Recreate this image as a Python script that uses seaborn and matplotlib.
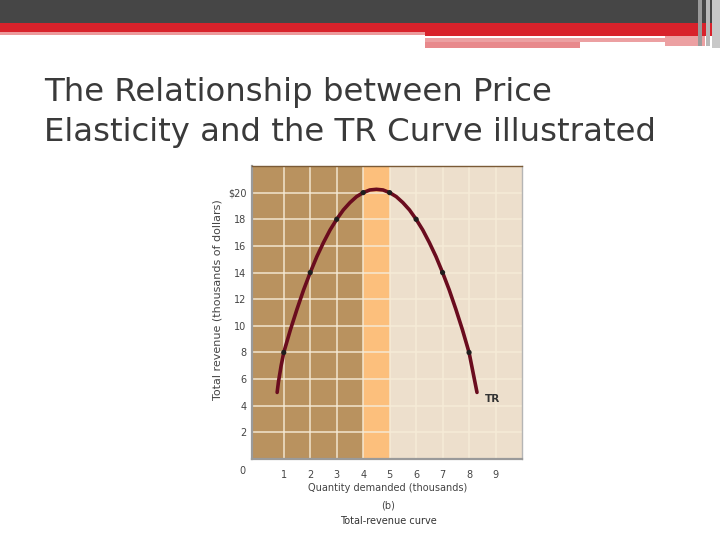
import matplotlib
matplotlib.use("Agg")
import matplotlib.pyplot as plt
from matplotlib.patches import Rectangle
import matplotlib.transforms as mtransforms
import seaborn as sns
import pandas as pd

# ---- data ----
quantity = [1, 2, 3, 4, 5, 6, 7, 8]
total_revenue = [8, 14, 18, 20, 20, 18, 14, 8]

curve_q = [0.75, 0.8, 0.9, 1.0, 1.25, 1.5, 1.75, 2.0, 2.25, 2.5, 2.75, 3.0,
           3.25, 3.5, 3.75, 4.0, 4.25, 4.5, 4.75, 5.0, 5.25, 5.5, 5.75, 6.0,
           6.25, 6.5, 6.75, 7.0, 7.25, 7.5, 7.75, 8.0, 8.1, 8.2, 8.3]
curve_tr = [5.0, 5.8, 7.0, 8.0, 9.7, 11.25, 12.7, 14.0, 15.2, 16.25, 17.2, 18.0,
            18.7, 19.25, 19.7, 20.0, 20.2, 20.25, 20.2, 20.0, 19.7, 19.25, 18.7, 18.0,
            17.2, 16.25, 15.2, 14.0, 12.7, 11.25, 9.7, 8.0, 7.0, 6.0, 5.0]

x_ticks = [1, 2, 3, 4, 5, 6, 7, 8, 9]
y_ticks = [2, 4, 6, 8, 10, 12, 14, 16, 18, 20]
y_tick_labels = ["2", "4", "6", "8", "10", "12", "14", "16", "18", "$20"]

elastic_end = 4
unit_end = 5

title = "The Relationship between Price\nElasticity and the TR Curve illustrated"

sns.set_style("white")
plt.rcParams['font.family'] = ['DejaVu Sans']

fig = plt.figure(figsize=(7.2, 5.4), dpi=100)
fig.patch.set_facecolor("white")

# ---- header decoration ----
H = 540.0
W = 720.0
def rect(x0, y0, x1, y1, color):
    fig.add_artist(Rectangle((x0 / W, 1 - y1 / H), (x1 - x0) / W, (y1 - y0) / H,
                             transform=fig.transFigure, color=color, lw=0, zorder=0))
rect(0, 0, 720, 23, "#464646")
rect(0, 23, 720, 32, "#d8222b")
rect(0, 32, 425, 35, "#ec9a9c")
rect(425, 32, 720, 36, "#d8222b")
rect(425, 38, 665, 42, "#eca0a2")
rect(425, 42, 580, 48, "#e8898c")
rect(665, 36, 705, 46, "#eca0a2")
rect(698, 0, 702, 46, "#9a9a9a")
rect(706, 0, 710, 46, "#b8b8b8")
rect(712, 0, 720, 48, "#c8c8c8")

fig.text(44 / W, 1 - 77 / H, title, fontsize=23.3, color="#3a3a3a",
         family="DejaVu Sans", va="top", ha="left", linespacing=1.36)

# ---- axes ----
ax = fig.add_axes([252 / W, 1 - 459 / H, 270 / W, 293 / H])
xmin, xmax = -0.2, 10.0
ymin, ymax = 0, 22
ax.set_xlim(xmin, xmax)
ax.set_ylim(ymin, ymax)

ax.axvspan(xmin, elastic_end, color="#b9925f", lw=0, zorder=0)
ax.axvspan(elastic_end, unit_end, color="#fcbf7c", lw=0, zorder=0)
ax.axvspan(unit_end, xmax, color="#eddfcc", lw=0, zorder=0)

for xv in x_ticks:
    ax.axvline(xv, color="#f6ecd8", lw=1.2, alpha=0.85, zorder=1)
for yv in y_ticks:
    ax.axhline(yv, color="#f6ecd8", lw=1.2, alpha=0.85, zorder=1)

curve_df = pd.DataFrame({"q": curve_q, "tr": curve_tr})
pts_df = pd.DataFrame({"q": quantity, "tr": total_revenue})
sns.lineplot(data=curve_df, x="q", y="tr", sort=False, color="#6a0c1e",
             lw=2.6, ax=ax, zorder=3)
sns.scatterplot(data=pts_df, x="q", y="tr", color="#1e1e1e", s=14,
                edgecolor="none", ax=ax, zorder=4)

ax.text(8.6, 4.5, "TR", fontsize=7.5, fontweight="bold", color="#333333",
        ha="left", va="center")

ax.set_xticks(x_ticks)
ax.set_xticklabels([str(v) for v in x_ticks])
ax.set_yticks(y_ticks)
ax.set_yticklabels(y_tick_labels)
ax.tick_params(axis="both", length=0, labelsize=7, labelcolor="#444444")
ax.tick_params(axis="x", pad=8)
ax.tick_params(axis="y", pad=4)
ax.set_xlabel("")
ax.set_ylabel("")

trans = mtransforms.blended_transform_factory(ax.transData, ax.transAxes)
ax.text(-0.55, -12 / 293, "0", transform=trans, fontsize=7, color="#444444",
        ha="center", va="center", clip_on=False)

for side in ["left", "bottom"]:
    ax.spines[side].set_color("#9a9a9a")
    ax.spines[side].set_linewidth(1.6)
ax.spines["top"].set_color("#7a5a36")
ax.spines["top"].set_linewidth(1.0)
ax.spines["right"].set_color("#b5b5b5")
ax.spines["right"].set_linewidth(1.0)

fig.text(388 / W, 1 - 488 / H, "Quantity demanded (thousands)", fontsize=7,
         color="#444444", ha="center", va="center")
fig.text(388 / W, 1 - 506 / H, "(b)", fontsize=7, color="#444444",
         ha="center", va="center")
fig.text(388 / W, 1 - 521 / H, "Total-revenue curve", fontsize=7,
         color="#333333", ha="center", va="center")
fig.text(217 / W, 1 - 300 / H, "Total revenue (thousands of dollars)", fontsize=8,
         color="#444444", ha="center", va="center", rotation=90)

fig.savefig("out.png", dpi=100)
